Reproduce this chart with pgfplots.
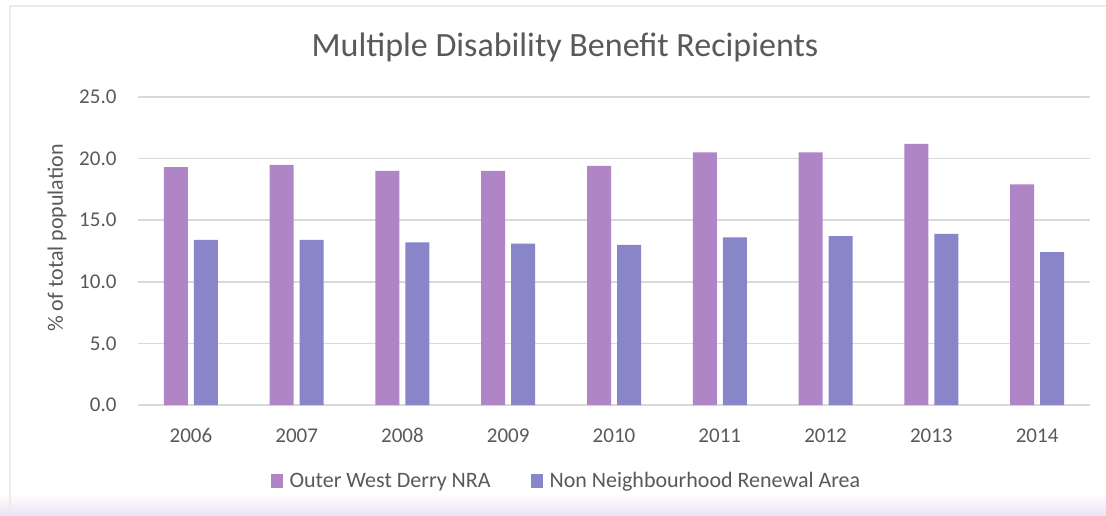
\documentclass[border=0pt]{standalone}
\usepackage{fontspec}
\setmainfont{Carlito}
\usepackage{pgfplots}
\pgfplotsset{compat=1.18}

\definecolor{owd}{HTML}{AF85C6}
\definecolor{nnra}{HTML}{8886C8}
\definecolor{txt}{HTML}{595959}
\definecolor{gridc}{HTML}{D9D9D9}
\definecolor{lav}{HTML}{EDE3F3}

\begin{document}
\begin{tikzpicture}[x=1pt,y=1pt]
\useasboundingbox (0,0) rectangle (1106,515);
% background and chart frame
\fill[white] (0,0) rectangle (1106,515);
\shade[top color=white, bottom color=lav] (0,0) rectangle (1106,22);
\draw[gray!15, line width=1.5pt] (10,1) -- (10,509) -- (1106,509);

\node[font=\fontsize{34}{40}\selectfont, text=txt] at (565,468) {Multiple Disability Benefit Recipients};
\node[font=\fontsize{22}{26}\selectfont, text=txt, rotate=90] at (57,277) {\% of total population};

\begin{axis}[
  at={(138pt,110pt)}, anchor=south west,
  scale only axis,
  width=952pt, height=308pt,
  ymin=0, ymax=25,
  xmin=-0.5, xmax=8.5,
  ytick={0,5,10,15,20,25},
  xtick=data,
  xticklabels={2006,2007,2008,2009,2010,2011,2012,2013,2014},
  ybar=6pt, bar width=24pt,
  axis line style={draw=none},
  major tick length=0pt,
  ymajorgrids, grid style={gridc, line width=1.5pt},
  tick label style={font=\fontsize{21}{25}\selectfont, text=txt},
  yticklabel style={/pgf/number format/fixed, /pgf/number format/precision=1,
    /pgf/number format/fixed zerofill, /pgf/number format/assume math mode=true,
    anchor=east, xshift=-18pt},
  xticklabel style={anchor=base, yshift=-37pt},
  legend style={at={(0.450,-0.247)}, anchor=center, draw=none, fill=none,
    font=\fontsize{22}{26}\selectfont, text=txt, legend columns=2,
    /tikz/every even column/.append style={column sep=38pt}},
  legend image code/.code={\fill[#1] (0pt,-7pt) rectangle (12pt,7pt); \path (17pt,0pt);},
]
\addplot[fill=owd, draw=none] coordinates {
  (0,19.3) (1,19.5) (2,19.0) (3,19.0) (4,19.4) (5,20.5) (6,20.5) (7,21.2) (8,17.9)};
\addlegendentry{Outer West Derry NRA}
\addplot[fill=nnra, draw=none] coordinates {
  (0,13.4) (1,13.4) (2,13.2) (3,13.1) (4,13.0) (5,13.6) (6,13.7) (7,13.9) (8,12.4)};
\addlegendentry{Non Neighbourhood Renewal Area}
\end{axis}
\end{tikzpicture}
\end{document}
